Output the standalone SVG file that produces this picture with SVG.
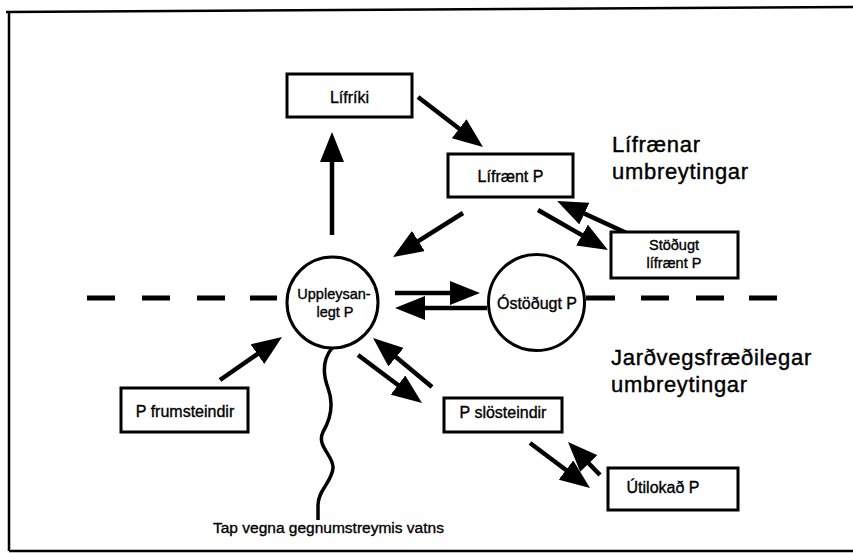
<svg xmlns="http://www.w3.org/2000/svg" width="853" height="553" viewBox="0 0 853 553">
<style>
  .box { fill: #fff; stroke: #000; stroke-width: 3; }
  .circ { fill: #fff; stroke: #000; stroke-width: 3; }
  .lbl { font-family: "Liberation Sans", Arial, sans-serif; font-size: 16px; fill: #000; stroke: #000; stroke-width: 0.35; text-anchor: middle; }
  .sm { font-size: 14.5px; }
  .big { font-family: "Liberation Sans", Arial, sans-serif; font-size: 22px; fill: #000; stroke: #000; stroke-width: 0.4; letter-spacing: 0.7px; }
  .arr { stroke: #000; stroke-width: 4.5; fill: none; marker-end: url(#head); }
  .dash { stroke: #000; stroke-width: 5; fill: none; }
  .frame { stroke: #000; stroke-width: 2.5; fill: none; }
</style>
<defs>
  <marker id="head" markerUnits="userSpaceOnUse" markerWidth="30" markerHeight="24" refX="10" refY="12" orient="auto" viewBox="0 0 30 24">
    <path d="M0,0 L30,12 L0,24 Z" fill="#000"/>
  </marker>
</defs>
<rect width="853" height="553" fill="#fff"/>
<g id="frame">
  <path class="frame" d="M6,12 L853,7"/>
  <path class="frame" d="M9,12 L9,551"/>
  <path class="frame" d="M9,551 L853,551"/>
</g>
<g id="divider">
  <path class="dash" d="M87,298 H115 M142,298 H170 M197,298 H225 M250,298 H277"/>
  <path class="dash" d="M586,298 H615 M641,298 H669 M696,298 H724 M749,298 H777"/>
</g>
<g id="connectors">
  <path class="arr" d="M332,235 L332,152"/>
  <path class="arr" d="M418,97 L467.1,134.8"/>
  <path class="arr" d="M463,213 L409.9,246.4"/>
  <path class="arr" d="M538,210 L590.6,240.1"/>
  <path class="arr" d="M633,236 L575.3,209.4"/>
  <path class="arr" d="M395,293 L460,293"/>
  <path class="arr" d="M487,308 L415,308"/>
  <path class="arr" d="M220,380 L265.6,348.4"/>
  <path class="arr" d="M358,355 L406,391"/>
  <path class="arr" d="M432,387 L388.4,350.8"/>
  <path class="arr" d="M530,443 L574,476"/>
  <path class="arr" d="M600,475 L581.9,456.3"/>
  <path d="M332,348 C324,358 322,372 328,388 C334,404 330,420 323,432 C316,446 334,456 333,468 C332,482 318,490 318,505 L318,520" stroke="#000" stroke-width="3.5" fill="none"/>
</g>
<g id="lifriki">
  <rect class="box" x="287" y="74" width="125" height="43"/>
  <text class="lbl" x="349.5" y="103">Lífríki</text>
</g>
<g id="lifraent">
  <rect class="box" x="448" y="154" width="125" height="43"/>
  <text class="lbl" x="510.5" y="182">Lífrænt P</text>
</g>
<g id="stodugt">
  <rect class="box" x="611" y="232" width="127" height="46"/>
  <text class="lbl sm" x="674" y="250">Stöðugt</text>
  <text class="lbl sm" x="674" y="268">lífrænt P</text>
</g>
<g id="uppleysanlegt">
  <circle class="circ" cx="332.5" cy="302.5" r="45.5"/>
  <text class="lbl sm" x="334" y="299">Uppleysan-</text>
  <text class="lbl sm" x="335" y="317">legt P</text>
</g>
<g id="ostodugt">
  <circle class="circ" cx="536.5" cy="302.5" r="48"/>
  <text class="lbl" x="537" y="309">Óstöðugt P</text>
</g>
<g id="frumsteindir">
  <rect class="box" x="121" y="388" width="127" height="44"/>
  <text class="lbl" x="185" y="417">P frumsteindir</text>
</g>
<g id="slosteindir">
  <rect class="box" x="444" y="398" width="118" height="34"/>
  <text class="lbl" x="503" y="418">P slösteindir</text>
</g>
<g id="utilokad">
  <rect class="box" x="608" y="468" width="130" height="42"/>
  <text class="lbl" x="663" y="493">Útilokað P</text>
</g>
<g id="labels">
  <text class="big" x="612" y="152">Lífrænar</text>
  <text class="big" x="612" y="179">umbreytingar</text>
  <text class="big" x="611" y="365">Jarðvegsfræðilegar</text>
  <text class="big" x="611" y="392">umbreytingar</text>
  <text x="213" y="533" font-family="Liberation Sans, Arial, sans-serif" font-size="15.5" fill="#000" stroke="#000" stroke-width="0.35">Tap vegna gegnumstreymis vatns</text>
</g>
</svg>
